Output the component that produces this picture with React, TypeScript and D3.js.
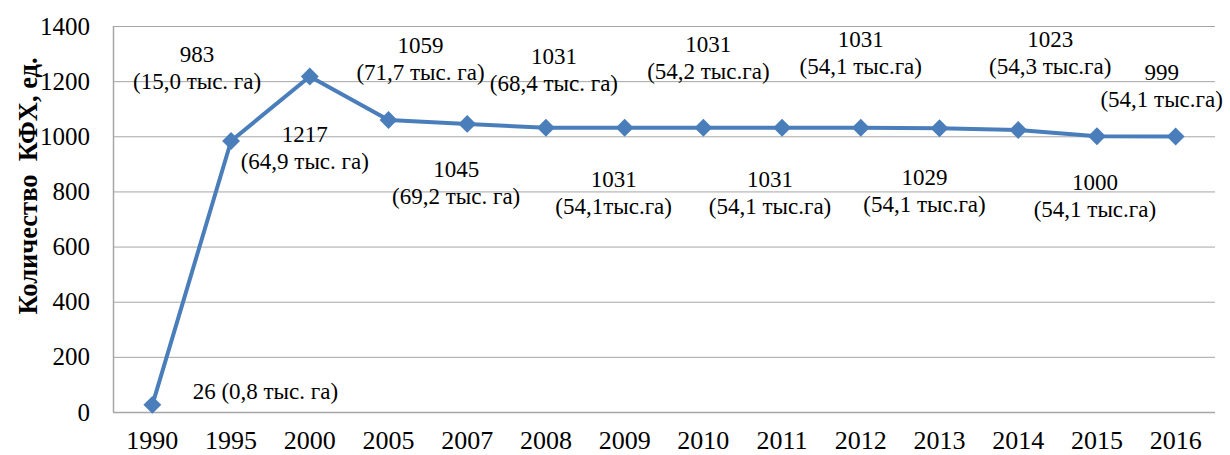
import React, { useEffect, useRef } from "react";
import * as d3 from "d3";

const years = ["1990","1995","2000","2005","2007","2008","2009","2010","2011","2012","2013","2014","2015","2016"];
const counts = [26, 983, 1217, 1059, 1045, 1031, 1031, 1031, 1031, 1031, 1029, 1023, 1000, 999];
const areaLabels = ["(0,8 тыс. га)","(15,0 тыс. га)","(64,9 тыс. га)","(71,7 тыс. га)","(69,2 тыс. га)","(68,4 тыс. га)","(54,1тыс.га)","(54,2 тыс.га)","(54,1 тыс.га)","(54,1 тыс.га)","(54,1 тыс.га)","(54,3 тыс.га)","(54,1 тыс.га)","(54,1 тыс.га)"];
const yTicks = [0, 200, 400, 600, 800, 1000, 1200, 1400];
const yTitle = "Количество  КФХ, ед.";

// label placement offsets (layout, pixels relative to each point)
const labelDx = [113, -34, -5, 32, -11, 8, -11, 5, -12, 0, -15, 32, -2, -14];
const labelDy = [-13, -86, 58, -75, 46, -71, 52, -83, 52, -88, 49, -90, 46, -64];

const W = 1230, H = 455;
const M = { left: 113, right: 1215, top: 26, bottom: 412 };
const FONT = "'Liberation Serif', 'Times New Roman', serif";
const BLUE = "#4A7EBB";

export default function App() {
  const ref = useRef<SVGSVGElement>(null);
  useEffect(() => {
    const svg = d3.select(ref.current);
    svg.selectAll("*").remove();
    const x = d3.scaleBand().domain(years).range([M.left, M.right]);
    const y = d3.scaleLinear().domain([0, 1400]).range([M.bottom, M.top]);
    const cx = (i: number) => (x(years[i]) as number) + x.bandwidth() / 2;

    // gridlines
    svg.append("g").selectAll("line").data(yTicks).join("line")
      .attr("x1", M.left).attr("x2", M.right)
      .attr("y1", d => y(d) + 0.5).attr("y2", d => y(d) + 0.5)
      .attr("stroke", "#A6A6A6").attr("stroke-width", d => d === 0 ? 1.5 : 1);
    svg.append("line").attr("x1", M.left + 0.5).attr("x2", M.left + 0.5)
      .attr("y1", M.top).attr("y2", M.bottom).attr("stroke", "#A6A6A6").attr("stroke-width", 1.5);

    // y tick labels
    svg.append("g").selectAll("text").data(yTicks).join("text")
      .attr("x", 90).attr("y", d => y(d)).attr("text-anchor", "end")
      .attr("dominant-baseline", "central")
      .style("font-family", FONT).attr("font-size", 25).attr("fill", "#000")
      .text(d => String(d));

    // x tick labels
    svg.append("g").selectAll("text").data(years).join("text")
      .attr("x", (d, i) => cx(i)).attr("y", 440).attr("text-anchor", "middle")
      .attr("dominant-baseline", "central")
      .style("font-family", FONT).attr("font-size", 26).attr("fill", "#000")
      .text(d => d);

    // y title
    svg.append("text")
      .attr("transform", `translate(28,186) rotate(-90)`)
      .attr("text-anchor", "middle").attr("dominant-baseline", "central")
      .style("font-family", FONT).attr("font-size", 26.5).attr("font-weight", "bold")
      .style("white-space", "pre")
      .text(yTitle);

    // line
    const line = d3.line<number>().x((d, i) => cx(i)).y(d => y(d));
    svg.append("path").datum(counts).attr("d", line)
      .attr("fill", "none").attr("stroke", BLUE).attr("stroke-width", 4)
      .attr("stroke-linejoin", "round");

    // markers (diamonds)
    svg.append("g").selectAll("path").data(counts).join("path")
      .attr("transform", (d, i) => `translate(${cx(i)},${y(d)}) rotate(45)`)
      .attr("d", d3.symbol().type(d3.symbolSquare).size(160) as any)
      .attr("fill", BLUE);

    // data labels
    const lg = svg.append("g").style("font-family", FONT).attr("font-size", 23).attr("fill", "#000")
      .attr("text-anchor", "middle");
    counts.forEach((v, i) => {
      const lx = cx(i) + labelDx[i];
      const ly = y(v) + labelDy[i];
      if (i === 0) {
        lg.append("text").attr("x", lx).attr("y", ly).attr("dominant-baseline", "central")
          .text(`${v} ${areaLabels[i]}`);
      } else {
        lg.append("text").attr("x", lx).attr("y", ly).attr("dominant-baseline", "central").text(String(v));
        lg.append("text").attr("x", lx).attr("y", ly + 27).attr("dominant-baseline", "central").text(areaLabels[i]);
      }
    });
  }, []);
  return (
    <svg ref={ref} width={W} height={H} style={{ position: "absolute", left: 0, top: 0, background: "#fff" }} />
  );
}
